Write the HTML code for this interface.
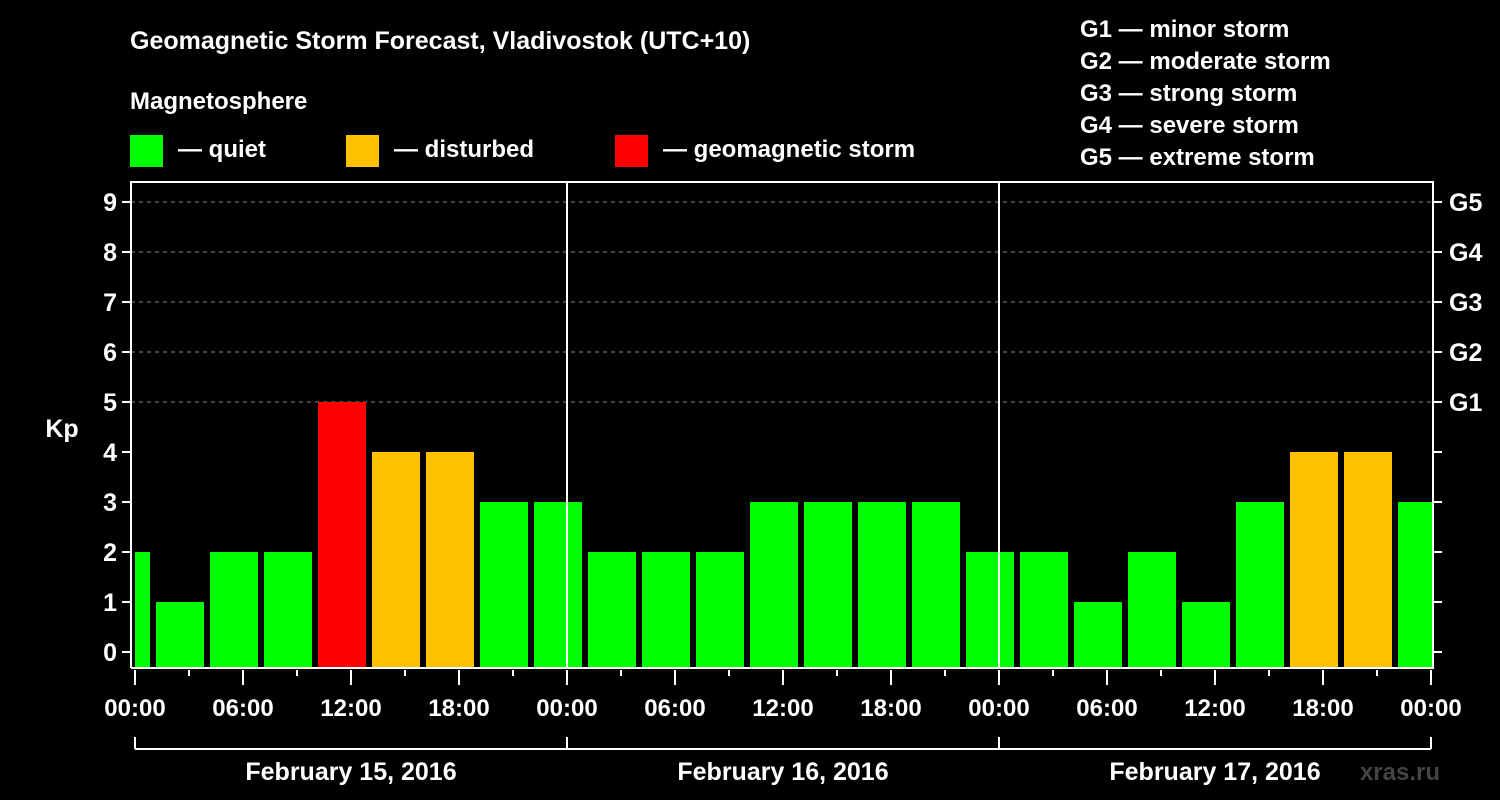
<!DOCTYPE html>
<html><head><meta charset="utf-8"><style>
html,body{margin:0;padding:0;background:#000;}
svg{display:block;font-family:"Liberation Sans",Arial,sans-serif;font-weight:bold;}
</style></head><body>
<svg id="chart" width="1500" height="800" viewBox="0 0 1500 800">
<rect x="0" y="0" width="1500" height="800" fill="#000"/>
<text x="130" y="49" fill="#fff" font-size="25">Geomagnetic Storm Forecast, Vladivostok (UTC+10)</text>
<text x="130" y="109" fill="#fff" font-size="24">Magnetosphere</text>
<g><rect x="130" y="135" width="33" height="32" fill="#00ff00"/><text x="178" y="157" fill="#fff" font-size="24">— quiet</text></g>
<g><rect x="346" y="135" width="33" height="32" fill="#ffc000"/><text x="394" y="157" fill="#fff" font-size="24">— disturbed</text></g>
<g><rect x="615" y="135" width="33" height="32" fill="#ff0000"/><text x="663" y="157" fill="#fff" font-size="24">— geomagnetic storm</text></g>
<g fill="#fff" font-size="24">
<text x="1080" y="37">G1 — minor storm</text>
<text x="1080" y="69">G2 — moderate storm</text>
<text x="1080" y="101">G3 — strong storm</text>
<text x="1080" y="133">G4 — severe storm</text>
<text x="1080" y="165">G5 — extreme storm</text>
</g>
<text x="62" y="437" fill="#fff" font-size="25" text-anchor="middle">Kp</text>
<text x="1440" y="780" fill="#444" font-size="24" text-anchor="end">xras.ru</text>
<defs><clipPath id="plotclip"><rect x="133" y="182" width="1299" height="486"/></clipPath></defs>
<g id="grid"></g>
<g id="bars" clip-path="url(#plotclip)"></g>
<g id="axes"></g>
</svg>
<script>
const kpValues=[2,1,2,2,5,4,4,3,3,2,2,2,3,3,3,3,2,2,1,2,1,3,4,4,3];
const startHour=-2; // first 3-hour interval start (local hours from day start)
const dayLabels=["February 15, 2016","February 16, 2016","February 17, 2016"];
const hourLabels=["00:00","06:00","12:00","18:00"];
const gLabels=["G1","G2","G3","G4","G5"];
const NS="http://www.w3.org/2000/svg";
const x0=135,pxH=18,y0=652,pxK=50,plotTop=182,plotBot=668,plotL=131,plotR=1433;
const xs=h=>x0+h*pxH, ys=k=>y0-k*pxK;
function mk(tag,attrs,parent){const e=document.createElementNS(NS,tag);for(const k in attrs)e.setAttribute(k,attrs[k]);parent.appendChild(e);return e;}
const grid=document.getElementById('grid'),bars=document.getElementById('bars'),axes=document.getElementById('axes');
for(let k=5;k<=9;k++){const l=mk('line',{x1:plotL,x2:plotR,y1:ys(k),y2:ys(k),stroke:'#888','stroke-dasharray':'4,4','stroke-width':1},grid);

}
kpValues.forEach((v,i)=>{const h=startHour+i*3;const col=v>=5?'#ff0000':(v>=4?'#ffc000':'#00ff00');
const bx=Math.max(xs(h)+3,plotL+4);const bw=xs(h)+51-bx;
const r=mk('rect',{x:bx,y:ys(v),width:bw,height:plotBot-ys(v),fill:col},bars);

});
// frame
const fr=mk('path',{d:`M${plotL},${plotBot} V${plotTop} H${plotR} V${plotBot} H${plotL}`,fill:'none',stroke:'#fff','stroke-width':2},axes);


for(let d=1;d<3;d++){const l=mk('line',{x1:xs(d*24),x2:xs(d*24),y1:plotTop,y2:plotBot,stroke:'#fff','stroke-width':2},axes);

}
for(let k=0;k<=9;k++){mk('line',{x1:plotL-9,x2:plotL,y1:ys(k),y2:ys(k),stroke:'#fff','stroke-width':2},axes);
mk('line',{x1:plotR,x2:plotR+9,y1:ys(k),y2:ys(k),stroke:'#fff','stroke-width':2},axes);
const t=mk('text',{x:plotL-14,y:ys(k)+9,fill:'#fff','font-size':25,'text-anchor':'end'},axes);t.textContent=k;

}
gLabels.forEach((g,i)=>{const t=mk('text',{x:plotR+16,y:ys(5+i)+9,fill:'#fff','font-size':25},axes);t.textContent=g;

});
for(let h=0;h<=72;h+=3){const major=h%6===0;mk('line',{x1:xs(h),x2:xs(h),y1:plotBot+2,y2:major?685:676,stroke:'#fff','stroke-width':2},axes);
if(major){const t=mk('text',{x:xs(h),y:716,fill:'#fff','font-size':24,'text-anchor':'middle'},axes);t.textContent=hourLabels[(h/6)%4];

}}
mk('line',{x1:xs(0),x2:xs(72),y1:749,y2:749,stroke:'#fff','stroke-width':2},axes);
for(let d=0;d<=3;d++)mk('line',{x1:xs(d*24),x2:xs(d*24),y1:737,y2:749,stroke:'#fff','stroke-width':2},axes);
dayLabels.forEach((s,d)=>{const t=mk('text',{x:xs(d*24+12),y:780,fill:'#fff','font-size':25,'text-anchor':'middle'},axes);t.textContent=s;

});
</script>
</body></html>
